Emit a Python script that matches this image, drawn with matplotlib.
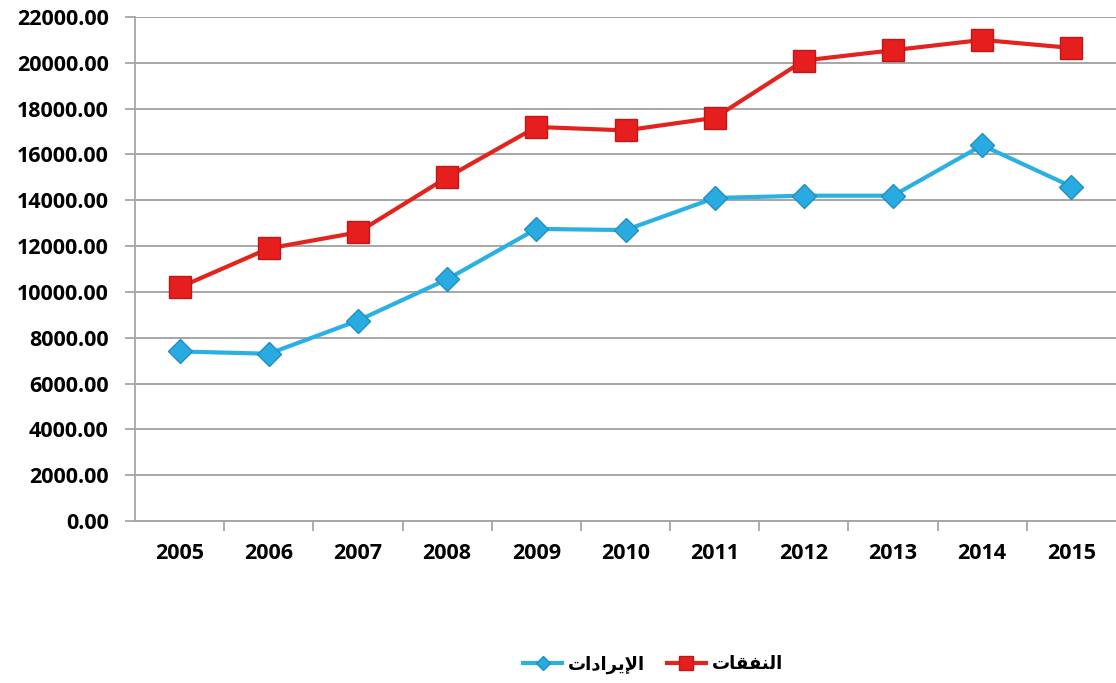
import numpy as np
import matplotlib
matplotlib.use("Agg")
import matplotlib.pyplot as plt
from matplotlib.ticker import FixedLocator, FuncFormatter

# ── DATA ──────────────────────────────────────────────────────────────────────
years        = ["2005", "2006", "2007", "2008", "2009", "2010",
                "2011", "2012", "2013", "2014", "2015"]
expenditures = [10200, 11900, 12600, 15000, 17200, 17050,
                17600, 20100, 20550, 21000, 20650]
revenues     = [7400, 7300, 8750, 10550, 12750, 12700,
                14100, 14200, 14200, 16400, 14600]
label_exp    = "النفقات"
label_rev    = "الإيرادات"
y_ticks      = list(range(0, 22001, 2000))

# ── minimal Arabic shaping (matplotlib has no shaping / bidi) ────────────────
# letter: (isolated, final, initial, medial)
FORMS = {
    "ا": ("\uFE8D", "\uFE8E", None, None),
    "إ": ("\uFE87", "\uFE88", None, None),
    "د": ("\uFEA9", "\uFEAA", None, None),
    "ر": ("\uFEAD", "\uFEAE", None, None),
    "ت": ("\uFE95", "\uFE96", "\uFE97", "\uFE98"),
    "ف": ("\uFED1", "\uFED2", "\uFED3", "\uFED4"),
    "ق": ("\uFED5", "\uFED6", "\uFED7", "\uFED8"),
    "ل": ("\uFEDD", "\uFEDE", "\uFEDF", "\uFEE0"),
    "ن": ("\uFEE5", "\uFEE6", "\uFEE7", "\uFEE8"),
    "ي": ("\uFEF1", "\uFEF2", "\uFEF3", "\uFEF4"),
}
LAM_ALEF = {"ا": ("\uFEFB", "\uFEFC"), "إ": ("\uFEF9", "\uFEFA")}


def shape(word):
    chars = list(word)
    out = []
    prev_joins = False
    i = 0
    while i < len(chars):
        c = chars[i]
        if c == "ل" and i + 1 < len(chars) and chars[i + 1] in LAM_ALEF:
            out.append(LAM_ALEF[chars[i + 1]][1 if prev_joins else 0])
            prev_joins = False
            i += 2
            continue
        iso, fin, ini, med = FORMS[c]
        nxt = i + 1 < len(chars) and chars[i + 1] in FORMS
        can_left = ini is not None
        if prev_joins and can_left and nxt:
            out.append(med)
        elif prev_joins:
            out.append(fin)
        elif can_left and nxt:
            out.append(ini)
        else:
            out.append(iso)
        prev_joins = can_left
        i += 1
    return "".join(reversed(out))


# ── PLOT ──────────────────────────────────────────────────────────────────────
plt.rcParams["font.family"] = ["Open Sans", "DejaVu Sans"]
plt.rcParams["font.weight"] = "bold"

fig = plt.figure(figsize=(11.16, 6.83), dpi=100)
ax = fig.add_axes([0.121, 0.2372, 0.879, 0.7379])

x = np.arange(len(years))
grid_c = "#a6a6a6"

ax.plot(x, revenues, color="#2bb0e4", lw=3, marker="D", markersize=12,
        markerfacecolor="#29abe2", markeredgecolor="#1d8fc4", markeredgewidth=1,
        label=shape(label_rev), zorder=3)
ax.plot(x, expenditures, color="#e3231d", lw=3, marker="s", markersize=16,
        markerfacecolor="#e61e1e", markeredgecolor="#c01818", markeredgewidth=1,
        label=shape(label_exp), zorder=4)

ax.set_xlim(-0.5, len(years) - 0.5)
ax.set_ylim(0, 22000)
ax.set_yticks(y_ticks)
ax.yaxis.set_major_formatter(FuncFormatter(lambda v, p: f"{v:.2f}"))
ax.yaxis.grid(True, color=grid_c, lw=1.4)
ax.set_axisbelow(True)

ax.set_xticks(x)
ax.set_xticklabels(years)
ax.xaxis.set_minor_locator(FixedLocator(np.arange(0.5, len(years) - 0.5, 1)))
ax.tick_params(axis="x", which="major", length=0, pad=16, labelsize=15.5)
ax.tick_params(axis="x", which="minor", length=7, width=1.3, color=grid_c,
               direction="out")
ax.tick_params(axis="y", length=7, width=1.3, color=grid_c, pad=12,
               labelsize=15.5)

for s in ["top", "right"]:
    ax.spines[s].set_visible(False)
ax.spines["left"].set_color(grid_c)
ax.spines["left"].set_linewidth(1.3)
ax.spines["bottom"].set_color(grid_c)
ax.spines["bottom"].set_linewidth(1.4)

fig.legend(loc="center", bbox_to_anchor=(0.585, 0.027), ncol=2, frameon=False,
           fontsize=13, handlelength=2.2, columnspacing=1.2, handletextpad=0.3,
           markerscale=0.6)

fig.savefig("out.png", dpi=100)
